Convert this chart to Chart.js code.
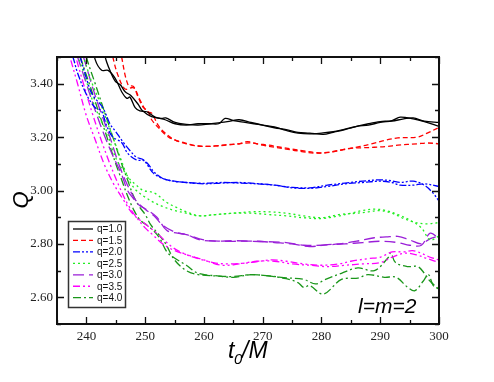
<!DOCTYPE html>
<html><head><meta charset="utf-8">
<script src="https://cdn.jsdelivr.net/npm/chart.js@4/dist/chart.umd.min.js"></script>
<style>html,body{margin:0;padding:0;background:#fff}#wrap{width:494px;height:382px}</style>
</head><body><div id="wrap"><canvas id="c" width="494" height="382"></canvas></div>
<script>
const xTicks = [240, 250, 260, 270, 280, 290, 300];
const yTicks = [2.6, 2.8, 3.0, 3.2, 3.4];
const qLabels = ['q=1.0', 'q=1.5', 'q=2.0', 'q=2.5', 'q=3.0', 'q=3.5', 'q=4.0'];

const q10aX = [241, 241.5, 242.6, 243.7, 244.9, 246, 246.9, 247.4, 248.3, 249.1, 250.3, 251.7, 253.4, 255.1, 257, 259, 261, 262.5, 263.6, 265, 267, 268.5, 270, 272, 274, 276, 278, 280, 282, 284, 286, 288, 290, 292, 293.4, 295.6, 297.5, 300];
const q10aY = [3.56, 3.49, 3.45, 3.45, 3.42, 3.37, 3.345, 3.35, 3.31, 3.298, 3.295, 3.275, 3.265, 3.25, 3.245, 3.25, 3.25, 3.25, 3.27, 3.262, 3.255, 3.25, 3.245, 3.238, 3.225, 3.215, 3.212, 3.215, 3.22, 3.23, 3.24, 3.25, 3.258, 3.262, 3.275, 3.268, 3.258, 3.24];
const q10bX = [242.8, 243.2, 244, 244.9, 245.8, 246.6, 247.6, 248.9, 249.5, 251.1, 252.8, 253.5, 255.1, 257, 259, 261, 263, 264.5, 266, 268, 270, 272, 274, 276, 278, 280.3, 282, 284, 286, 288, 290, 292, 294, 295.6, 297.5, 300];
const q10bY = [3.56, 3.50, 3.45, 3.41, 3.395, 3.37, 3.355, 3.32, 3.30, 3.277, 3.27, 3.272, 3.255, 3.248, 3.245, 3.25, 3.255, 3.26, 3.265, 3.255, 3.245, 3.235, 3.228, 3.218, 3.215, 3.21, 3.218, 3.228, 3.24, 3.245, 3.255, 3.26, 3.268, 3.272, 3.26, 3.255];

const q15aX = [244, 244.5, 245.4, 246.6, 248, 248.8, 249.7, 250.4, 251.1, 252.8, 254, 255.5, 257, 258.5, 260, 262, 264, 266, 267.4, 269, 271, 273, 275, 277, 279, 280.2, 282, 284, 286.6, 288.5, 291.2, 293, 296.3, 298, 300];
const q15aY = [3.56, 3.50, 3.43, 3.38, 3.385, 3.35, 3.31, 3.30, 3.265, 3.223, 3.20, 3.185, 3.175, 3.168, 3.165, 3.167, 3.172, 3.175, 3.183, 3.175, 3.17, 3.162, 3.155, 3.148, 3.142, 3.14, 3.145, 3.155, 3.165, 3.175, 3.19, 3.197, 3.20, 3.215, 3.236];
const q15bX = [245.6, 246, 247.1, 248, 249.1, 250.3, 251.1, 252.2, 253.4, 255, 256.5, 258, 260, 262, 264, 266, 268, 270, 272, 274, 276.9, 279, 281, 283, 285, 287, 289, 291.2, 293, 296.3, 298, 300];
const q15bY = [3.56, 3.50, 3.395, 3.39, 3.34, 3.295, 3.29, 3.245, 3.215, 3.19, 3.18, 3.17, 3.165, 3.167, 3.17, 3.175, 3.178, 3.17, 3.162, 3.155, 3.145, 3.14, 3.143, 3.15, 3.158, 3.16, 3.162, 3.165, 3.17, 3.175, 3.178, 3.175];

const q20aX = [236.5, 237.7, 238.5, 240, 241.5, 242.5, 243.5, 244.5, 246, 247, 248.5, 250, 251.5, 253, 255, 257, 260, 263, 266, 269, 272, 275, 278, 281, 284, 287, 290, 292, 293.4, 295.6, 297.5, 299, 300];
const q20aY = [3.56, 3.50, 3.44, 3.36, 3.31, 3.30, 3.24, 3.20, 3.18, 3.14, 3.115, 3.11, 3.07, 3.045, 3.035, 3.03, 3.027, 3.03, 3.028, 3.025, 3.02, 3.012, 3.01, 3.02, 3.028, 3.035, 3.04, 3.036, 3.03, 3.035, 3.02, 2.99, 2.96];
const q20bX = [237.5, 238.9, 240, 241, 242.8, 244, 245, 246.3, 247.4, 248.5, 249.7, 251.4, 253, 254.8, 257, 260, 263, 266, 269, 272, 275, 278, 281, 284, 287, 290, 292, 293.4, 295.6, 297.5, 300];
const q20bY = [3.56, 3.50, 3.42, 3.36, 3.31, 3.25, 3.22, 3.18, 3.15, 3.125, 3.115, 3.065, 3.045, 3.035, 3.03, 3.025, 3.028, 3.03, 3.026, 3.02, 3.01, 3.008, 3.015, 3.025, 3.03, 3.035, 3.03, 3.02, 3.02, 3.025, 3.015];

const q25aX = [237.5, 238.6, 240, 241, 242.3, 243.5, 244.5, 245.5, 246.5, 247.5, 248.5, 249.7, 251, 252, 253.7, 255.5, 257, 259.4, 262, 265, 268, 271, 274, 277, 280, 283, 286, 288, 290, 292, 294, 296, 298, 300];
const q25aY = [3.56, 3.50, 3.41, 3.34, 3.27, 3.22, 3.15, 3.10, 3.07, 3.04, 3.02, 3.0, 2.995, 2.985, 2.955, 2.935, 2.92, 2.905, 2.91, 2.915, 2.92, 2.92, 2.915, 2.905, 2.898, 2.91, 2.915, 2.92, 2.925, 2.915, 2.895, 2.88, 2.875, 2.88];
const q25bX = [238.5, 239.5, 241, 242.5, 243.5, 244.5, 245.5, 246.5, 247.5, 248.5, 250, 251.5, 253, 255, 257, 259, 262, 265, 268, 271, 274, 277, 280, 283, 285, 287, 289, 291, 293, 295, 297, 298.5, 300];
const q25bY = [3.56, 3.50, 3.40, 3.32, 3.26, 3.20, 3.14, 3.08, 3.03, 3.0, 2.975, 2.955, 2.94, 2.925, 2.915, 2.905, 2.91, 2.915, 2.915, 2.91, 2.905, 2.898, 2.895, 2.905, 2.915, 2.925, 2.93, 2.925, 2.91, 2.89, 2.86, 2.815, 2.83];

const q30aX = [237.5, 238.5, 240, 241.5, 243, 244.5, 246, 247, 248, 249, 250.5, 252, 253.7, 255.5, 257, 259.4, 262, 265, 268, 271, 274, 277, 280, 283, 286, 289, 291, 293, 295, 297, 298.5, 300];
const q30aY = [3.56, 3.50, 3.40, 3.30, 3.21, 3.13, 3.06, 3.0, 2.97, 2.945, 2.925, 2.90, 2.85, 2.84, 2.835, 2.815, 2.81, 2.812, 2.81, 2.808, 2.805, 2.795, 2.795, 2.80, 2.81, 2.823, 2.826, 2.828, 2.815, 2.80, 2.82, 2.83];
const q30bX = [238.5, 239.5, 241, 242.5, 244, 245.5, 247, 248.5, 250, 251.5, 253, 255, 257, 260, 263, 266, 269, 272, 275, 278, 281, 284, 287, 290, 293, 295, 297, 298.5, 300];
const q30bY = [3.56, 3.50, 3.39, 3.29, 3.20, 3.10, 3.02, 2.96, 2.93, 2.905, 2.87, 2.845, 2.835, 2.815, 2.81, 2.81, 2.81, 2.805, 2.80, 2.79, 2.797, 2.80, 2.805, 2.81, 2.805, 2.795, 2.795, 2.84, 2.82];

const q35aX = [236.5, 237.2, 238.5, 240, 241.5, 243, 244.5, 246.3, 248, 250.3, 252, 254.8, 257, 259, 261.6, 264, 267, 269.5, 271.7, 274, 277, 280, 283, 285, 288, 290, 292, 294, 295.5, 297, 298.5, 300];
const q35aY = [3.56, 3.50, 3.40, 3.28, 3.19, 3.10, 3.03, 2.965, 2.91, 2.87, 2.84, 2.785, 2.76, 2.745, 2.73, 2.725, 2.728, 2.735, 2.74, 2.735, 2.725, 2.72, 2.725, 2.735, 2.745, 2.75, 2.77, 2.77, 2.775, 2.765, 2.75, 2.74];
const q35bX = [237.5, 238.2, 239.5, 241, 242.5, 244, 245.5, 247, 248.5, 250, 251.5, 253, 255, 257, 260, 263, 266, 269, 272, 275, 278, 281, 284, 287, 290, 292, 294, 296, 298, 300];
const q35bY = [3.56, 3.50, 3.40, 3.29, 3.19, 3.10, 3.02, 2.95, 2.90, 2.86, 2.83, 2.80, 2.775, 2.76, 2.74, 2.72, 2.725, 2.735, 2.735, 2.725, 2.72, 2.715, 2.72, 2.725, 2.73, 2.75, 2.765, 2.76, 2.745, 2.73];

const q40aX = [238.5, 239, 240.5, 242, 243.5, 245, 246, 247, 248, 249.1, 250.3, 251.4, 252.5, 253.7, 254.8, 257, 259, 262.3, 265, 268, 271, 274, 277, 279, 280.5, 283.4, 286.2, 289, 291.4, 291.8, 292.6, 294.7, 296.4, 297.5, 298.5, 300];
const q40aY = [3.56, 3.50, 3.40, 3.30, 3.20, 3.10, 3.04, 2.98, 2.93, 2.89, 2.87, 2.85, 2.82, 2.77, 2.75, 2.72, 2.69, 2.68, 2.675, 2.685, 2.68, 2.673, 2.667, 2.65, 2.665, 2.69, 2.71, 2.70, 2.75, 2.767, 2.73, 2.715, 2.715, 2.69, 2.66, 2.63];
const q40bX = [239.5, 240, 241.5, 243, 244.5, 246, 247, 248, 249, 250, 251, 252.5, 253.5, 255, 257, 259, 262, 265, 268, 271, 274, 276, 277, 278, 280.3, 283.4, 286.2, 287.9, 290.7, 292.7, 294.7, 295.9, 297.3, 298.2, 299, 300];
const q40bY = [3.56, 3.50, 3.40, 3.30, 3.20, 3.10, 3.04, 2.98, 2.94, 2.91, 2.87, 2.83, 2.80, 2.74, 2.70, 2.685, 2.68, 2.678, 2.685, 2.68, 2.67, 2.655, 2.637, 2.644, 2.612, 2.667, 2.672, 2.685, 2.675, 2.675, 2.637, 2.625, 2.66, 2.685, 2.645, 2.63];

const colors = ['#000000', '#ff0000', '#0000ff', '#22ee22', '#9a1fd8', '#ff00ff', '#1a961a'];
const dashes = [[], [5, 3], [7, 2, 2, 2, 2, 2], [2, 3], [11, 5], [7, 3, 2, 3, 2, 3], [8, 3, 2, 3]];

const curves = [
  [0, q10aX, q10aY], [0, q10bX, q10bY],
  [1, q15aX, q15aY], [1, q15bX, q15bY],
  [2, q20aX, q20aY], [2, q20bX, q20bY],
  [3, q25aX, q25aY], [3, q25bX, q25bY],
  [4, q30aX, q30aY], [4, q30bX, q30bY],
  [5, q35aX, q35aY], [5, q35bX, q35bY],
  [6, q40aX, q40aY], [6, q40bX, q40bY]
];

const datasets = curves.map(([qi, xs, ys]) => ({
  label: qLabels[qi],
  data: xs.map((x, i) => ({x: x, y: ys[i]})),
  borderColor: colors[qi],
  borderDash: dashes[qi],
  borderWidth: 1.3,
  pointRadius: 0,
  tension: 0.35,
  fill: false
}));

const framePlugin = {
  id: 'frame',
  afterDraw(chart) {
    const ctx = chart.ctx;
    const a = chart.chartArea;
    const xs = chart.scales.x, ys = chart.scales.y;
    ctx.save();
    // legend
    const lx = 68, ly = 221, lw = 57, lh = 86;
    ctx.fillStyle = '#fff';
    ctx.fillRect(lx, ly, lw, lh);
    ctx.strokeStyle = '#333';
    ctx.lineWidth = 1.5;
    ctx.strokeRect(lx + 0.5, ly + 0.5, lw, lh);
    ctx.font = '10px "Liberation Sans", Arial, sans-serif';
    ctx.textBaseline = 'middle';
    qLabels.forEach((lab, i) => {
      const yy = 229 + i * 11.45;
      ctx.beginPath();
      ctx.strokeStyle = colors[i];
      ctx.lineWidth = 1.3;
      ctx.setLineDash(dashes[i]);
      ctx.moveTo(73, yy);
      ctx.lineTo(93, yy);
      ctx.stroke();
      ctx.setLineDash([]);
      ctx.fillStyle = '#111';
      ctx.fillText(lab, 97, yy + 0.5);
    });
    // frame
    ctx.strokeStyle = '#111';
    ctx.lineWidth = 2;
    ctx.strokeRect(a.left, a.top, a.right - a.left, a.bottom - a.top);
    ctx.lineWidth = 1.3;
    ctx.beginPath();
    for (let v = 235; v <= 300; v += 5) {
      const px = Math.round(xs.getPixelForValue(v)) + 0.5;
      const len = v % 10 === 0 ? 7 : 4;
      ctx.moveTo(px, a.bottom); ctx.lineTo(px, a.bottom - len);
      ctx.moveTo(px, a.top); ctx.lineTo(px, a.top + len);
    }
    for (let k = 25; k <= 35; k++) {
      const py = Math.round(ys.getPixelForValue(k / 10)) + 0.5;
      const len = k % 2 === 0 ? 7 : 4;
      ctx.moveTo(a.left, py); ctx.lineTo(a.left + len, py);
      ctx.moveTo(a.right, py); ctx.lineTo(a.right - len, py);
    }
    ctx.stroke();
    // axis titles
    ctx.fillStyle = '#000';
    ctx.textBaseline = 'alphabetic';
    ctx.font = 'italic 23px "Liberation Sans", Arial, sans-serif';
    ctx.fillText('t', 228, 358);
    ctx.font = 'italic 15px "Liberation Sans", Arial, sans-serif';
    ctx.fillText('0', 234, 364);
    ctx.font = 'italic 23px "Liberation Sans", Arial, sans-serif';
    ctx.fillText('/M', 242, 358);
    ctx.save();
    ctx.translate(28, 200);
    ctx.rotate(-Math.PI / 2);
    ctx.textAlign = 'center';
    ctx.font = 'italic 22px "Liberation Sans", Arial, sans-serif';
    ctx.fillText('Q', 0, 0);
    ctx.restore();
    ctx.font = 'italic 21px "Liberation Sans", Arial, sans-serif';
    ctx.fillText('l=m=2', 358, 313);
    ctx.restore();
  }
};

new Chart(document.getElementById('c'), {
  type: 'line',
  data: {datasets},
  options: {
    responsive: false,
    animation: false,
    plugins: {legend: {display: false}, tooltip: {enabled: false}},
    layout: {padding: {left: 0, top: 57, right: 55, bottom: 0}},
    scales: {
      x: {
        type: 'linear', min: 235, max: 300,
        grid: {display: false, drawTicks: false},
        border: {display: false},
        afterBuildTicks: s => { s.ticks = xTicks.map(v => ({value: v})); },
        afterFit: s => { s.height = 58; },
        ticks: {padding: 5, color: '#222', font: {family: '"Liberation Serif", "Times New Roman", serif', size: 13}, maxRotation: 0, callback: v => String(v)}
      },
      y: {
        type: 'linear', min: 2.5, max: 3.5,
        grid: {display: false, drawTicks: false},
        border: {display: false},
        afterBuildTicks: s => { s.ticks = yTicks.map(v => ({value: v})); },
        afterFit: s => { s.width = 57; },
        ticks: {padding: 4, color: '#222', font: {family: '"Liberation Serif", "Times New Roman", serif', size: 13}, callback: v => Number(v).toFixed(2)}
      }
    }
  },
  plugins: [framePlugin]
});
</script>
</body></html>
